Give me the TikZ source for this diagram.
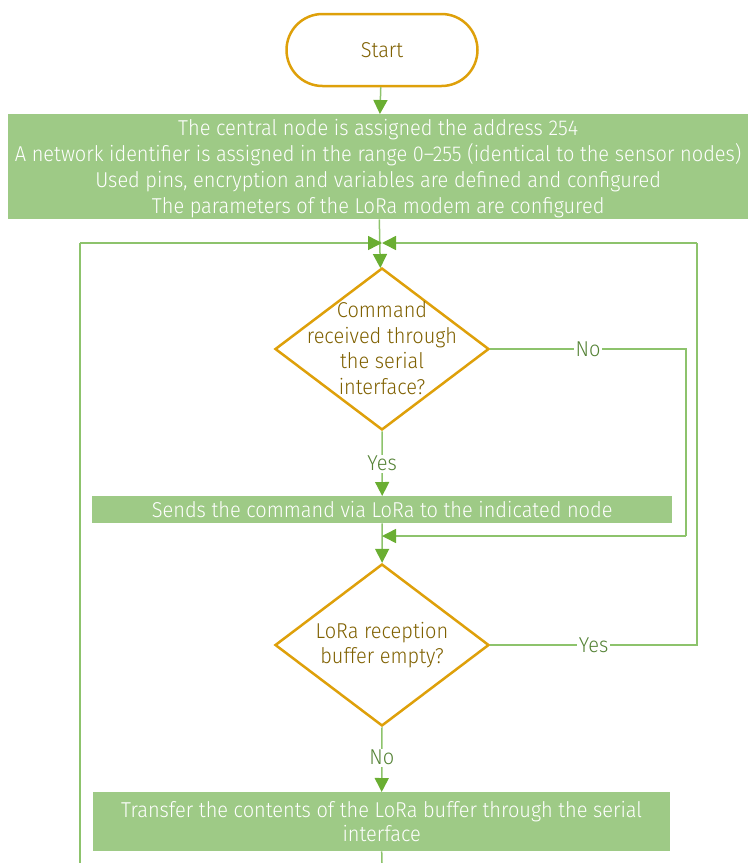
\documentclass[tikz,border=0pt]{standalone}
\usepackage{fontspec}
\setmainfont{Fira Sans Light}[FakeStretch=0.93]
\usetikzlibrary{shapes.geometric,arrows.meta,calc}
\definecolor{gold}{RGB}{222,160,10}
\definecolor{goldtext}{RGB}{127,96,0}
\definecolor{boxfill}{RGB}{158,202,134}
\definecolor{flow}{RGB}{141,195,108}
\definecolor{tipgreen}{RGB}{106,174,50}
\definecolor{labelgreen}{RGB}{84,130,53}
\tikzset{
  terminal/.style={draw=gold, line width=2.5pt, rounded corners=36pt, fill=white,
    minimum width=191pt, minimum height=72pt, inner sep=0pt, text=goldtext,
    font=\fontsize{21.5}{26}\selectfont},
  process/.style={fill=boxfill, inner sep=0pt, text=white, align=center},
  decision/.style={draw=gold, line width=2.5pt, diamond, inner sep=0pt,
    minimum width=214pt, minimum height=162pt},
  dtext/.style={text=goldtext, align=center, font=\fontsize{21.5}{25.5}\selectfont},
  flowline/.style={draw=flow, line width=1.5pt},
  arr/.style={flowline, -{Triangle[length=14pt,width=14pt,color=tipgreen]}},
  lbl/.style={fill=white, text=labelgreen, inner sep=1.5pt, font=\fontsize{21.5}{26}\selectfont},
}
\begin{document}
\begin{tikzpicture}[x=1pt,y=-1pt]
\useasboundingbox (0,0) rectangle (748,863);

% terminal and process boxes
\node[terminal] (start) at (382,50) {Start};
\node[process, minimum width=740pt, minimum height=105pt, anchor=north west,
      font=\fontsize{21.5}{26}\selectfont] (init) at (8,114)
  {\parbox{740pt}{\centering\vspace*{4pt}%
   The central node is assigned the address 254\\
   A network identifier is assigned in the range 0–255 (identical to the sensor nodes)\\
   Used pins, encryption and variables are defined and configured\\
   The parameters of the LoRa modem are configured}};

\node[decision] (d1) at (382,349) {};
\node[dtext] (d1t) at (382,348) {Command\\received through\\the serial\\interface?};

\node[process, minimum width=580pt, minimum height=27pt, anchor=north west,
      font=\fontsize{21.5}{26}\selectfont] (send) at (92,496)
  {Sends the command via LoRa to the indicated node};

\node[decision] (d2) at (382,645) {};
\node[dtext] (d2t) at (382,645) {LoRa reception\\buffer empty?};

\node[process, minimum width=577pt, minimum height=59pt, anchor=north west,
      font=\fontsize{21.5}{24.5}\selectfont] (xfer) at (93,792)
  {Transfer the contents of the LoRa buffer through the serial\\interface};

% junction points of the loops
\coordinate (join) at (382,243);
\coordinate (merge) at (382,536);
\coordinate (loopfoot) at (80,863);
\coordinate (mainfoot) at (382,863);

% main flow
\draw[arr] (start) -- (init);
\draw[arr] (init) -- (d1);
\draw[arr] (d1.south) -- (send.north) node[lbl, pos=0.5] {Yes};
\draw[arr] (send) -- (d2);
\draw[arr] (d2.south) -- (xfer.north) node[lbl, pos=0.47] {No};
\draw[flowline] (xfer.south) -- (mainfoot);

% "No" branch of the first decision returns below the send box
\draw[flowline] (d1.east) -- node[lbl, pos=0.5] {No} (686,349) -- (686,536);
\draw[arr] (686,536) -- (merge);

% "Yes" branch of the second decision loops back to the top
\draw[flowline] (d2.east) -- node[lbl, pos=0.5] {Yes} (697,645) -- (697,243);
\draw[arr] (697,243) -- (join);

% return from the end of the loop
\draw[flowline] (loopfoot) -- (80,243);
\draw[arr] (80,243) -- (join);
\end{tikzpicture}
\end{document}
